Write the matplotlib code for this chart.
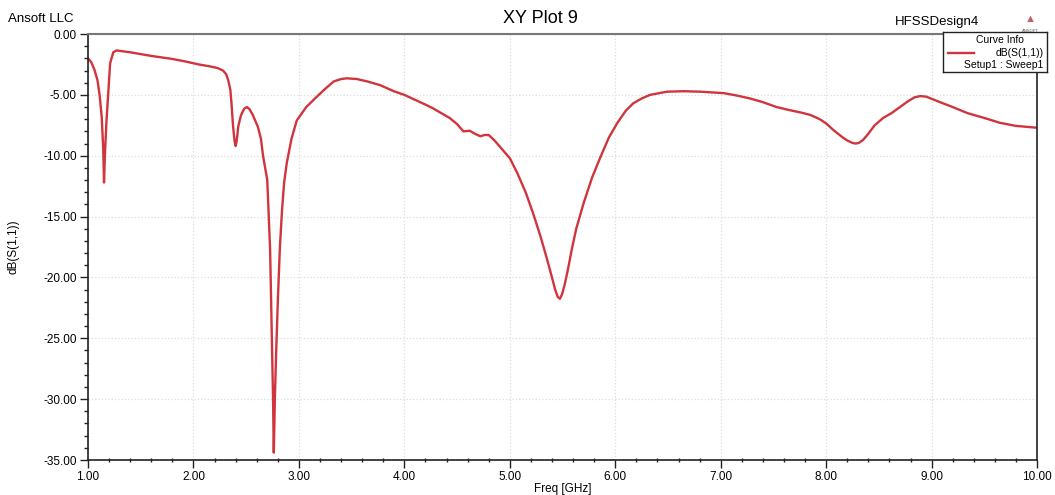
import numpy as np
import matplotlib
matplotlib.use("Agg")
import matplotlib.pyplot as plt
from matplotlib.ticker import MultipleLocator, FormatStrFormatter
from matplotlib.lines import Line2D

plt.rcParams['font.family'] = ['Liberation Sans', 'DejaVu Sans']

# S11 curve
freq_ghz = [1.00, 1.03, 1.06, 1.09, 1.11, 1.13, 1.145, 1.152, 1.16, 1.175, 1.19, 1.21, 1.24,
            1.27, 1.40, 1.60, 1.80, 1.92, 2.05, 2.15, 2.23, 2.28, 2.31, 2.33, 2.35, 2.36,
            2.375, 2.39, 2.40, 2.41, 2.425, 2.45, 2.48, 2.505, 2.53, 2.56, 2.61, 2.64, 2.66,
            2.70, 2.727, 2.743, 2.755, 2.762, 2.772, 2.785, 2.80, 2.82, 2.84, 2.86, 2.885,
            2.93, 2.98, 3.07, 3.17, 3.25, 3.33, 3.40, 3.455, 3.55, 3.65, 3.77, 3.90, 4.00,
            4.10, 4.20, 4.27, 4.35, 4.43, 4.50, 4.56, 4.62, 4.67, 4.72, 4.76, 4.80, 4.85,
            4.91, 5.00, 5.07, 5.15, 5.22, 5.29, 5.35, 5.40, 5.43, 5.455, 5.475, 5.495, 5.52,
            5.55, 5.59, 5.63, 5.70, 5.78, 5.86, 5.94, 6.02, 6.10, 6.17, 6.25, 6.33, 6.49,
            6.65, 6.81, 7.03, 7.15, 7.28, 7.40, 7.53, 7.65, 7.76, 7.85, 7.94, 8.00, 8.07,
            8.15, 8.20, 8.25, 8.28, 8.31, 8.35, 8.39, 8.46, 8.54, 8.62, 8.70, 8.78, 8.84,
            8.89, 8.95, 9.08, 9.20, 9.34, 9.50, 9.65, 9.80, 10.00]
s11_db = [-2.0, -2.3, -2.9, -3.8, -5.0, -6.8, -9.5, -12.2, -10.0, -7.2, -5.2, -2.4, -1.5,
          -1.35, -1.5, -1.8, -2.05, -2.25, -2.5, -2.65, -2.8, -3.0, -3.3, -3.8, -4.6, -5.6,
          -7.5, -8.8, -9.2, -8.8, -7.6, -6.7, -6.15, -6.0, -6.15, -6.6, -7.6, -8.6, -10.0,
          -12.0, -17.7, -24.6, -30.0, -34.4, -30.0, -26.0, -22.0, -17.5, -14.5, -12.2, -10.6,
          -8.6, -7.1, -6.0, -5.15, -4.5, -3.9, -3.7, -3.64, -3.7, -3.9, -4.2, -4.7, -5.0,
          -5.4, -5.8, -6.1, -6.5, -6.9, -7.4, -8.0, -7.95, -8.2, -8.4, -8.3, -8.3, -8.7,
          -9.3, -10.2, -11.4, -13.0, -14.7, -16.6, -18.4, -20.0, -21.0, -21.6, -21.75, -21.4, -20.6,
          -19.4, -17.6, -16.0, -13.9, -11.8, -10.1, -8.5, -7.3, -6.3, -5.7, -5.3, -5.0, -4.74,
          -4.7, -4.74, -4.86, -5.05, -5.3, -5.6, -6.0, -6.25, -6.45, -6.65, -7.0, -7.35, -7.9,
          -8.45, -8.75, -8.95, -9.0, -8.95, -8.7, -8.3, -7.5, -6.9, -6.5, -6.0, -5.5, -5.2,
          -5.1, -5.15, -5.6, -6.0, -6.5, -6.9, -7.3, -7.55, -7.7]

x_ticks = np.arange(1, 10.01, 1)
y_ticks = np.arange(-35, 0.01, 5)

fig = plt.figure(figsize=(10.55, 4.95), dpi=100)
ax = fig.add_axes([0.0834, 0.0707, 0.8996, 0.8606])

ax.plot(freq_ghz, s11_db, color='#d0343c', linewidth=1.7, solid_joinstyle='round')

ax.set_xlim(1, 10)
ax.set_ylim(-35, 0)
ax.set_xticks(x_ticks)
ax.set_yticks(y_ticks)
ax.xaxis.set_minor_locator(MultipleLocator(0.2))
ax.yaxis.set_minor_locator(MultipleLocator(1))
ax.xaxis.set_major_formatter(FormatStrFormatter('%.2f'))
ax.yaxis.set_major_formatter(FormatStrFormatter('%.2f'))
ax.tick_params(axis='both', which='major', labelsize=8.5, length=6, width=1, color='#222222', pad=2)
ax.tick_params(axis='both', which='minor', length=3, width=1, color='#222222')
ax.tick_params(axis='x', which='minor', direction='inout')

ax.grid(True, which='major', linestyle=':', color='#d8dede', linewidth=0.9)
for side in ['left', 'bottom', 'right']:
    ax.spines[side].set_color('#222222')
    ax.spines[side].set_linewidth(1.2)
ax.spines['top'].set_color('#777777')
ax.spines['top'].set_linewidth(1.5)

ax.set_xlabel('Freq [GHz]', fontsize=8.5, labelpad=0)
ax.set_ylabel('dB(S(1,1))', fontsize=8.5)
ax.yaxis.set_label_coords(-0.072, 0.5)

# header texts
fig.text(0.512, 0.963, 'XY Plot 9', ha='center', va='center', fontsize=13)
fig.text(0.008, 0.962, 'Ansoft LLC', ha='left', va='center', fontsize=9.5)
fig.text(0.928, 0.955, 'HFSSDesign4', ha='right', va='center', fontsize=9.5)
fig.text(0.977, 0.962, '\u25b2', ha='center', va='center', fontsize=8, color='#c06060')
fig.text(0.977, 0.938, 'ANSOFT', ha='center', va='center', fontsize=3, color='#555555')

# curve info box
box = fig.add_axes([0.894, 0.855, 0.098, 0.08])
box.set_xlim(0, 1)
box.set_ylim(0, 1)
box.set_xticks([])
box.set_yticks([])
for s in box.spines.values():
    s.set_color('#222222')
    s.set_linewidth(1)
box.text(0.55, 0.80, 'Curve Info', ha='center', va='center', fontsize=7.5)
box.add_line(Line2D([0.05, 0.30], [0.47, 0.47], color='#d0343c', linewidth=1.7))
box.text(0.97, 0.47, 'dB(S(1,1))', ha='right', va='center', fontsize=7.5)
box.text(0.97, 0.17, 'Setup1 : Sweep1', ha='right', va='center', fontsize=7.5)

plt.savefig('out.png', dpi=100)
